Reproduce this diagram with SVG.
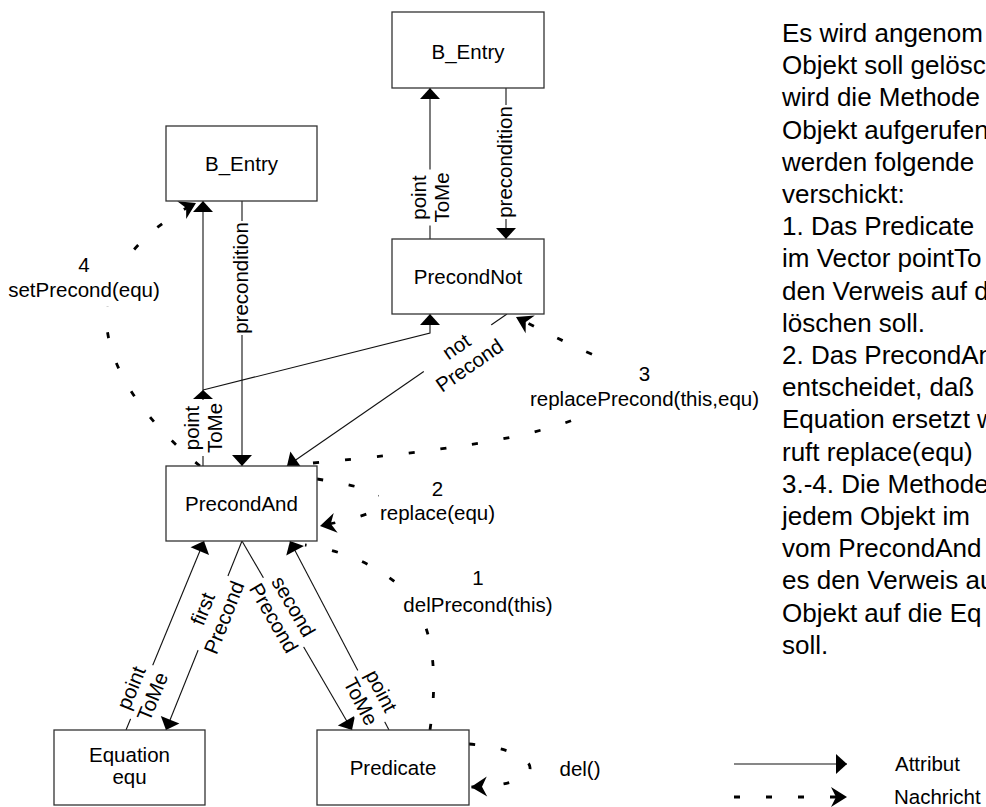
<svg xmlns="http://www.w3.org/2000/svg" width="986" height="807" viewBox="0 0 986 807">
<style>
  .box{fill:#fff;stroke:#333;stroke-width:1.3}
  .t{font-family:"Liberation Sans",Arial,Helvetica,sans-serif;font-size:20.5px;fill:#000}
  .c{text-anchor:middle}
  .attr{fill:none;stroke:#111;stroke-width:1.1}
  .msg{fill:none;stroke:#000;stroke-width:2.8;stroke-dasharray:6 26}
  .bg{fill:#fff}
  .body{font-size:26px}
</style>
<defs>
  <marker id="ah" viewBox="-12 -11 12 22" refX="0" refY="0" markerWidth="12" markerHeight="22" orient="auto" markerUnits="userSpaceOnUse">
    <path d="M0,0 L-11,-10 L-11,10 Z" fill="#000"/>
  </marker>
  <marker id="mh" viewBox="-17 -11 17 22" refX="0" refY="0" markerWidth="17" markerHeight="22" orient="auto" markerUnits="userSpaceOnUse">
    <path d="M0,0 L-16,-10 L-11,0 L-16,10 Z" fill="#000"/>
  </marker>
</defs>

<!-- connectors: attributes (solid) and messages (dashed) -->
<g id="connectors">
  <path class="attr" d="M430,239 V88" marker-end="url(#ah)"/>
  <path class="attr" d="M506,88 V239" marker-end="url(#ah)"/>
  <path class="attr" d="M203,466 V201" marker-end="url(#ah)"/>
  <path class="attr" d="M203,390 L430,333 V314" marker-end="url(#ah)"/>
  <polygon points="203,390 193,399 213,399" fill="#000"/>
  <path class="attr" d="M242,201 V466" marker-end="url(#ah)"/>
  <path class="attr" d="M507,314 L287,466" marker-end="url(#ah)"/>
  <path class="attr" d="M242,541 L166,730" marker-end="url(#ah)"/>
  <path class="attr" d="M126,730 L204,541" marker-end="url(#ah)"/>
  <path class="attr" d="M242,541 L352,730" marker-end="url(#ah)"/>
  <path class="attr" d="M389,730 L290,541" marker-end="url(#ah)"/>

  <path class="msg" d="M430,730 C440,660 430,610 395,582 C370,562 340,550 305,545"/>
  <path class="msg" d="M317,479 Q450,500 320,526" marker-end="url(#mh)"/>
  <path class="msg" d="M313,463 C430,452 530,440 585,415 C640,392 640,372 606,360 C580,350 545,332 516,317" marker-end="url(#mh)"/>
  <path class="msg" d="M200,466 C120,400 100,340 108,300 C115,262 150,226 196,203" marker-end="url(#mh)"/>
  <path class="msg" d="M469,744 C545,750 555,785 471,787" marker-end="url(#mh)"/>
</g>

<!-- connector labels -->
<g id="labels" class="t">
  <g transform="translate(430,197.5) rotate(-90)">
    <rect class="bg" x="-28" y="-20" width="56" height="45"/>
    <text class="c"><tspan x="0" y="-4">point</tspan><tspan x="0" y="19">ToMe</tspan></text>
  </g>
  <g transform="translate(506,162) rotate(-90)">
    <rect class="bg" x="-57" y="-10" width="114" height="21"/>
    <text class="c" x="0" y="6">precondition</text>
  </g>
  <g transform="translate(242,278) rotate(-90)">
    <rect class="bg" x="-57" y="-10" width="114" height="21"/>
    <text class="c" x="0" y="6">precondition</text>
  </g>
  <g transform="translate(203,428) rotate(-90)">
    <rect class="bg" x="-28" y="-20" width="56" height="45"/>
    <text class="c"><tspan x="0" y="-4">point</tspan><tspan x="0" y="19">ToMe</tspan></text>
  </g>
  <g transform="translate(457.5,348.2) rotate(-34.6)">
    <rect class="bg" x="-41" y="-12" width="82" height="46"/>
    <text class="c"><tspan x="0" y="5">not</tspan><tspan x="0" y="28">Precond</tspan></text>
  </g>
  <g transform="translate(213,613) rotate(-68.1)">
    <rect class="bg" x="-40" y="-20" width="80" height="45"/>
    <text class="c"><tspan x="0" y="-4">first</tspan><tspan x="0" y="19">Precond</tspan></text>
  </g>
  <g transform="translate(141.5,692) rotate(-67.6)">
    <rect class="bg" x="-29" y="-20" width="58" height="45"/>
    <text class="c"><tspan x="0" y="-4">point</tspan><tspan x="0" y="19">ToMe</tspan></text>
  </g>
  <g transform="translate(284,612) rotate(59.8)">
    <rect class="bg" x="-40" y="-20" width="80" height="45"/>
    <text class="c"><tspan x="0" y="-4">second</tspan><tspan x="0" y="19">Precond</tspan></text>
  </g>
  <g transform="translate(371.5,696) rotate(62.4)">
    <rect class="bg" x="-29" y="-20" width="58" height="45"/>
    <text class="c"><tspan x="0" y="-4">point</tspan><tspan x="0" y="19">ToMe</tspan></text>
  </g>

  <rect class="bg" x="5" y="254" width="158" height="52"/>
  <text class="c" x="84" y="272">4</text>
  <text class="c" x="84" y="297">setPrecond(equ)</text>

  <rect class="bg" x="528" y="362" width="234" height="51"/>
  <text class="c" x="644.5" y="381">3</text>
  <text class="c" x="644.5" y="406">replacePrecond(this,equ)</text>

  <rect class="bg" x="379" y="478" width="117" height="48"/>
  <text class="c" x="437.5" y="496">2</text>
  <text class="c" x="437.5" y="520">replace(equ)</text>

  <rect class="bg" x="400" y="566" width="156" height="51"/>
  <text class="c" x="478" y="585">1</text>
  <text class="c" x="478" y="612">delPrecond(this)</text>

  <text class="c" x="580" y="776">del()</text>
</g>

<!-- objects -->
<g id="b-entry-top" class="t">
  <rect class="box" x="392" y="12" width="152" height="76"/>
  <text class="c" x="468" y="59">B_Entry</text>
</g>
<g id="b-entry-left" class="t">
  <rect class="box" x="166" y="126" width="151" height="75"/>
  <text class="c" x="241.5" y="170.5">B_Entry</text>
</g>
<g id="precond-not" class="t">
  <rect class="box" x="392" y="239" width="152" height="75"/>
  <text class="c" x="468" y="283.5">PrecondNot</text>
</g>
<g id="precond-and" class="t">
  <rect class="box" x="166" y="466" width="151" height="75"/>
  <text class="c" x="241.5" y="510.5">PrecondAnd</text>
</g>
<g id="equation" class="t">
  <rect class="box" x="54" y="730" width="151" height="75"/>
  <text class="c" x="129.5" y="762">Equation</text>
  <text class="c" x="129.5" y="784">equ</text>
</g>
<g id="predicate" class="t">
  <rect class="box" x="317" y="730" width="152" height="75"/>
  <text class="c" x="393" y="775">Predicate</text>
</g>

<!-- legend -->
<g id="legend" class="t">
  <path class="attr" d="M734,764 H847" marker-end="url(#ah)"/>
  <text x="895" y="771">Attribut</text>
  <path class="msg" d="M734,797 H847" marker-end="url(#mh)"/>
  <text x="894" y="804">Nachricht</text>
</g>

<!-- explanation, running past the right edge -->
<g id="notes" class="t body">
  <text x="782" y="42">Es wird angenom</text>
  <text x="782" y="74.2">Objekt soll gelösc</text>
  <text x="782" y="106.4">wird die Methode</text>
  <text x="782" y="138.6">Objekt aufgerufen</text>
  <text x="782" y="170.8">werden folgende</text>
  <text x="782" y="203">verschickt:</text>
  <text x="782" y="235.2">1. Das Predicate</text>
  <text x="782" y="267.4">im Vector pointTo</text>
  <text x="782" y="299.6">den Verweis auf d</text>
  <text x="782" y="331.8">löschen soll.</text>
  <text x="782" y="364">2. Das PrecondAn</text>
  <text x="782" y="396.2">entscheidet, daß</text>
  <text x="782" y="428.4">Equation ersetzt w</text>
  <text x="782" y="460.6">ruft replace(equ)</text>
  <text x="782" y="492.8">3.-4. Die Methode</text>
  <text x="782" y="525">jedem Objekt im</text>
  <text x="782" y="557.2">vom PrecondAnd</text>
  <text x="782" y="589.4">es den Verweis au</text>
  <text x="782" y="621.6">Objekt auf die Eq</text>
  <text x="782" y="653.8">soll.</text>
</g>
</svg>
